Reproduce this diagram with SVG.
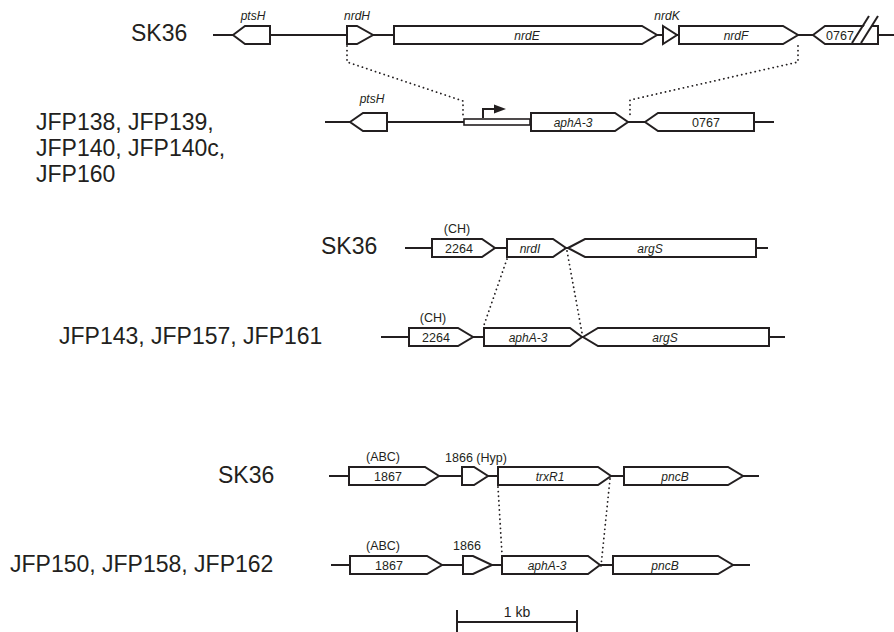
<svg xmlns="http://www.w3.org/2000/svg" width="894" height="632" viewBox="0 0 894 632">
<style>
.bb{stroke:#231f20;stroke-width:2;fill:none}
.g{fill:#fff;stroke:#231f20;stroke-width:2;stroke-linejoin:miter}
.dot{stroke:#231f20;stroke-width:1.8;fill:none;stroke-dasharray:0.1 4.5;stroke-linecap:round}
text{font-family:"Liberation Sans",Arial,sans-serif;fill:#231f20}
.big{font-size:23px}
.gi{font-size:12px;font-style:italic;text-anchor:middle}
.gn{font-size:12.5px;text-anchor:middle}
.lab{font-size:12.5px;text-anchor:middle}
</style>
<rect width="894" height="632" fill="#fff"/>

<g id="labels">
<text class="big" x="131" y="41">SK36</text>
<text class="big" x="36" y="130">JFP138, JFP139,</text>
<text class="big" x="36" y="156">JFP140, JFP140c,</text>
<text class="big" x="36" y="182">JFP160</text>
<text class="big" x="321" y="254">SK36</text>
<text class="big" x="59" y="344">JFP143, JFP157, JFP161</text>
<text class="big" x="218" y="483">SK36</text>
<text class="big" x="10" y="572">JFP150, JFP158, JFP162</text>
</g>

<g id="connectors">
<line class="bb" x1="213" y1="35" x2="894" y2="35"/>
<line class="bb" x1="325" y1="122" x2="774" y2="122"/>
<line class="bb" x1="405" y1="248" x2="768" y2="248"/>
<line class="bb" x1="381" y1="337" x2="785" y2="337"/>
<line class="bb" x1="329" y1="476" x2="759" y2="476"/>
<line class="bb" x1="331" y1="565" x2="750" y2="565"/>
<polyline class="dot" points="347,46 347,62 463,101 463,118"/>
<polyline class="dot" points="798,46 798,62 630,100 630,118"/>
<line class="dot" x1="507" y1="259" x2="484" y2="325"/>
<line class="dot" x1="567" y1="251" x2="582" y2="333"/>
<line class="dot" x1="498" y1="487" x2="502" y2="554"/>
<line class="dot" x1="610" y1="479" x2="601" y2="566"/>
</g>

<g id="row1">
<g id="ptsH1"><polygon class="g" points="233,35 245,26 270,26 270,44 245,44"/><text class="gi" x="253" y="20">ptsH</text></g>
<g id="nrdH"><polygon class="g" points="347,26 357,26 373,35 357,44 347,44"/><text class="gi" x="357" y="20">nrdH</text></g>
<g id="nrdE"><polygon class="g" points="394,26 642,26 657,35 642,44 394,44"/><text class="gi" x="527" y="39.5">nrdE</text></g>
<g id="nrdK"><polygon class="g" points="663,26 677,35 663,44"/><text class="gi" x="667" y="20">nrdK</text></g>
<g id="nrdF"><polygon class="g" points="679,26 783,26 798,35 783,44 679,44"/><text class="gi" x="736" y="39.5">nrdF</text></g>
<g id="g0767a"><polygon class="g" points="813,35 825,26 878,26 878,44 825,44"/><text class="gn" x="840" y="39.5">0767</text>
<polygon points="853,43 870,17 878,17 861,43" fill="#fff"/>
<line class="bb" x1="852" y1="43" x2="869" y2="16"/>
<line class="bb" x1="861" y1="43" x2="878" y2="16"/></g>
</g>

<g id="row2">
<g id="ptsH2"><polygon class="g" points="350,122 363,113 387,113 387,131 363,131"/><text class="gi" x="372" y="103">ptsH</text></g>
<g id="promoter"><rect class="g" x="464" y="119" width="66" height="6" style="stroke-width:1.6"/>
<polyline class="bb" points="483,118 483,109 496,109"/>
<polygon points="494,104.5 506,109 494,113.5" fill="#231f20"/></g>
<g id="aphA1"><polygon class="g" points="531,113 615,113 628,122 615,131 531,131"/><text class="gi" x="573" y="126.5">aphA-3</text></g>
<g id="g0767b"><polygon class="g" points="645,122 658,113 754,113 754,131 658,131"/><text class="gn" x="706" y="126.5">0767</text></g>
</g>

<g id="row3">
<g id="g2264a"><polygon class="g" points="432,239 482,239 495,248 482,257 432,257"/><text class="gn" x="459" y="252.5">2264</text><text class="lab" x="457" y="233">(CH)</text></g>
<g id="nrdI"><polygon class="g" points="507,239 553,239 566,248 553,257 507,257"/><text class="gi" x="530" y="252.5">nrdI</text></g>
<g id="argS1"><polygon class="g" points="568,248 585,239 756,239 756,257 585,257"/><text class="gi" x="650" y="252.5">argS</text></g>
</g>

<g id="row4">
<g id="g2264b"><polygon class="g" points="409,328 458,328 473,337 458,346 409,346"/><text class="gn" x="436" y="341.5">2264</text><text class="lab" x="433" y="322">(CH)</text></g>
<g id="aphA2"><polygon class="g" points="484,328 570,328 582,337 570,346 484,346"/><text class="gi" x="528" y="341.5">aphA-3</text></g>
<g id="argS2"><polygon class="g" points="583,337 598,328 769,328 769,346 598,346"/><text class="gi" x="665" y="341.5">argS</text></g>
</g>

<g id="row5">
<g id="g1867a"><polygon class="g" points="349,467 425,467 439,476 425,485 349,485"/><text class="gn" x="388" y="480.5">1867</text><text class="lab" x="383" y="461">(ABC)</text></g>
<g id="g1866a"><polygon class="g" points="462,467 474,467 488,476 474,485 462,485"/><text class="lab" x="476" y="462">1866 (Hyp)</text></g>
<g id="trxR1"><polygon class="g" points="498,467 598,467 611,476 598,485 498,485"/><text class="gi" x="550" y="480.5">trxR1</text></g>
<g id="pncB1"><polygon class="g" points="624,467 728,467 743,476 728,485 624,485"/><text class="gi" x="675" y="480.5">pncB</text></g>
</g>

<g id="row6">
<g id="g1867b"><polygon class="g" points="350,556 427,556 442,565 427,574 350,574"/><text class="gn" x="389" y="569.5">1867</text><text class="lab" x="383" y="550">(ABC)</text></g>
<g id="g1866b"><polygon class="g" points="463,556 473,556 492,565 473,574 463,574"/><text class="lab" x="467" y="550">1866</text></g>
<g id="aphA3"><polygon class="g" points="502,556 588,556 600,565 588,574 502,574"/><text class="gi" x="547" y="569.5">aphA-3</text></g>
<g id="pncB2"><polygon class="g" points="613,556 718,556 733,565 718,574 613,574"/><text class="gi" x="665" y="569.5">pncB</text></g>
</g>

<g id="scalebar">
<line class="bb" x1="457" y1="622" x2="577" y2="622"/>
<line class="bb" x1="457" y1="610" x2="457" y2="632"/>
<line class="bb" x1="577" y1="610" x2="577" y2="632"/>
<text x="517" y="617" style="font-size:14px;text-anchor:middle">1 kb</text>
</g>
</svg>
